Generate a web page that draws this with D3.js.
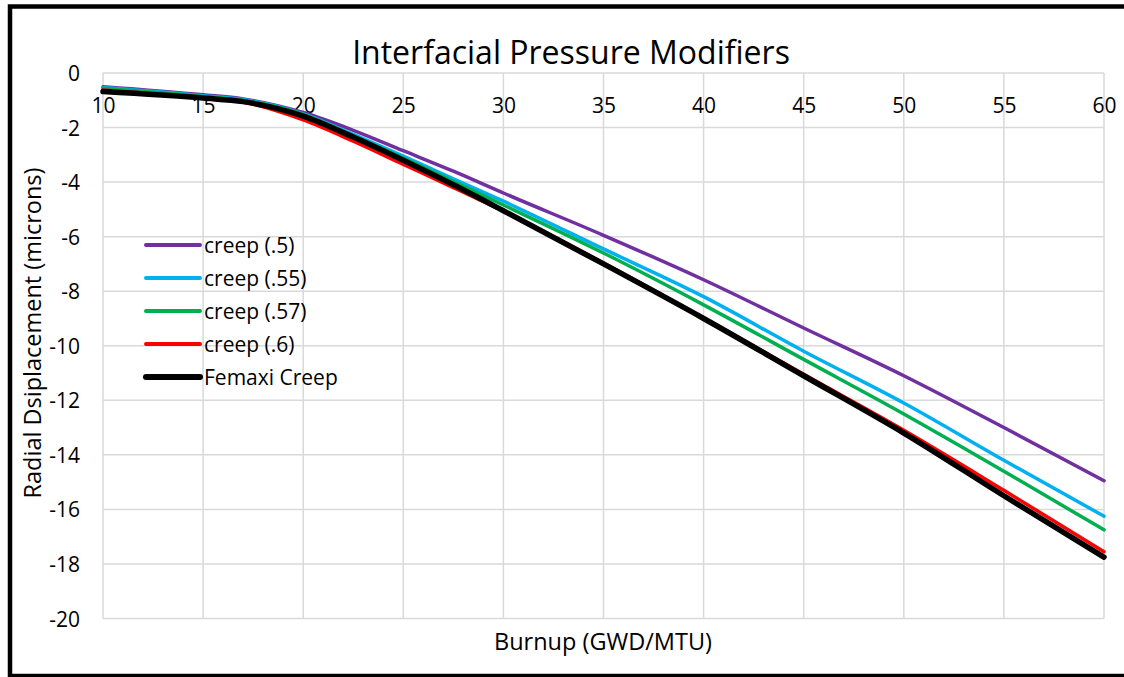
<!DOCTYPE html>
<html>
<head>
<meta charset="utf-8">
<script src="https://cdn.jsdelivr.net/npm/d3@7"></script>
<style>
  body { margin: 0; background: #fff; }
  svg text { font-family: "Open Sans", sans-serif; fill: #000; }
</style>
</head>
<body>
<div id="chart"></div>
<script>
// burnup values (GWD/MTU)
var burnup = [10, 15, 17, 20, 22.5, 25, 27.5, 30, 35, 40, 45, 50, 55, 60];

// radial displacement (microns)
var creep50  = [-0.50, -0.80, -0.95, -1.45, -2.10, -2.85, -3.60, -4.40, -5.95, -7.58, -9.35, -11.10, -13.00, -14.95];
var creep55  = [-0.53, -0.83, -0.97, -1.50, -2.25, -3.05, -3.88, -4.70, -6.45, -8.20, -10.20, -12.10, -14.20, -16.25];
var creep57  = [-0.56, -0.86, -1.00, -1.52, -2.30, -3.12, -3.98, -4.84, -6.60, -8.50, -10.50, -12.50, -14.60, -16.75];
var creep60  = [-0.62, -0.92, -1.07, -1.72, -2.50, -3.35, -4.20, -5.07, -6.97, -8.98, -11.05, -13.10, -15.30, -17.55];
var femaxi   = [-0.68, -0.92, -1.05, -1.58, -2.35, -3.20, -4.10, -5.05, -7.00, -9.00, -11.10, -13.20, -15.50, -17.75];

var seriesNames = ["creep (.5)", "creep (.55)", "creep (.57)", "creep (.6)", "Femaxi Creep"];
var xTicks = [10, 15, 20, 25, 30, 35, 40, 45, 50, 55, 60];
var yTicks = [0, -2, -4, -6, -8, -10, -12, -14, -16, -18, -20];

var colors = ["#7030A0", "#00B0F0", "#00B050", "#FF0000", "#000000"];
var widths = [3.5, 3.5, 3.5, 3.5, 5.5];

var W = 1124, H = 677;
var svg = d3.select("#chart").append("svg")
  .attr("width", W).attr("height", H);

// outer frame
svg.append("rect")
  .attr("x", 10).attr("y", 6.5)
  .attr("width", 1200).attr("height", 669.5)
  .attr("fill", "#fff").attr("stroke", "#000").attr("stroke-width", 4.5);

var x = d3.scaleLinear().domain([10, 60]).range([103, 1104]);
var y = d3.scaleLinear().domain([0, -20]).range([73, 618.5]);

// grid
svg.append("g").selectAll("line").data(xTicks).enter().append("line")
  .attr("x1", function (d) { return x(d); }).attr("x2", function (d) { return x(d); })
  .attr("y1", y(0)).attr("y2", y(-20))
  .attr("stroke", "#d9d9d9").attr("stroke-width", 1.5);
svg.append("g").selectAll("line").data(yTicks).enter().append("line")
  .attr("x1", x(10)).attr("x2", x(60))
  .attr("y1", function (d) { return y(d); }).attr("y2", function (d) { return y(d); })
  .attr("stroke", "#d9d9d9").attr("stroke-width", 1.5);

// plain hyphen minus, like the original
var plain = function (d) { return String(d); };

// x axis labels sit just under the zero line
var xAxis = svg.append("g")
  .attr("transform", "translate(0," + y(0) + ")")
  .call(d3.axisBottom(x).tickValues(xTicks).tickSize(0).tickPadding(25).tickFormat(plain));
xAxis.select(".domain").remove();
xAxis.selectAll("text").style("font-size", "21px").attr("fill", "#000");

var yAxis = svg.append("g")
  .attr("transform", "translate(" + x(10) + ",0)")
  .call(d3.axisLeft(y).tickValues(yTicks).tickSize(0).tickPadding(23).tickFormat(plain));
yAxis.select(".domain").remove();
yAxis.selectAll("text").style("font-size", "21px").attr("fill", "#000").attr("dy", "0.36em");

// lines
var allSeries = [creep50, creep55, creep57, creep60, femaxi];
var line = d3.line()
  .x(function (d) { return x(d[0]); })
  .y(function (d) { return y(d[1]); })
  .curve(d3.curveMonotoneX);

allSeries.forEach(function (vals, i) {
  svg.append("path")
    .datum(burnup.map(function (b, j) { return [b, vals[j]]; }))
    .attr("fill", "none")
    .attr("stroke", colors[i])
    .attr("stroke-width", widths[i])
    .attr("stroke-linecap", "round")
    .attr("stroke-linejoin", "round")
    .attr("d", line);
});

// legend
seriesNames.forEach(function (name, i) {
  var ly = 245 + i * 33;
  svg.append("line")
    .attr("x1", 146).attr("x2", 200).attr("y1", ly).attr("y2", ly)
    .attr("stroke", colors[i]).attr("stroke-width", widths[i] + 0.5)
    .attr("stroke-linecap", "round");
  svg.append("text")
    .attr("x", 204).attr("y", ly + 7.5)
    .style("font-size", "21px")
    .text(name);
});

// titles
svg.append("text")
  .attr("x", 571).attr("y", 64)
  .attr("text-anchor", "middle")
  .style("font-size", "32px")
  .text("Interfacial Pressure Modifiers");

svg.append("text")
  .attr("x", 603).attr("y", 650)
  .attr("text-anchor", "middle")
  .style("font-size", "23.5px")
  .text("Burnup (GWD/MTU)");

svg.append("text")
  .attr("transform", "translate(41,333) rotate(-90)")
  .attr("text-anchor", "middle")
  .style("font-size", "23.5px")
  .text("Radial Dsiplacement (microns)");
</script>
</body>
</html>
